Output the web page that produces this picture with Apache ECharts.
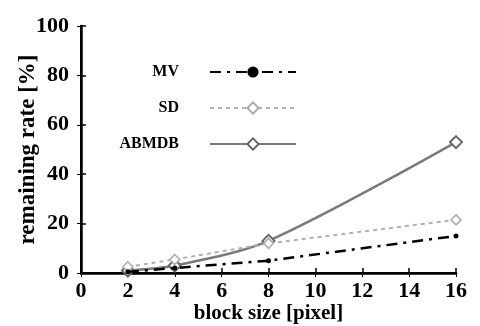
<!DOCTYPE html>
<html>
<head>
<meta charset="utf-8">
<script src="https://cdn.jsdelivr.net/npm/echarts@6/dist/echarts.min.js"></script>
<style>html,body{margin:0;padding:0;background:#fff;}#c{width:480px;height:326px;}</style>
</head>
<body>
<div id="c"></div>
<script>
const blockSizes = [2, 4, 8, 16];
const mvValues = [0.5, 2, 5, 15];
const sdValues = [2.5, 5.5, 12, 21.5];
const abmdbValues = [1, 3, 13, 53];
const xTicks = [0, 2, 4, 6, 8, 10, 12, 14, 16];
const yTicks = [0, 20, 40, 60, 80, 100];
const seriesNames = ['MV', 'SD', 'ABMDB'];

const font = '"Liberation Serif", "DejaVu Serif", serif';
const pair = (xs, ys) => xs.map((x, i) => [x, ys[i]]);

const chart = echarts.init(document.getElementById('c'));
const legendBase = {
  orient: 'vertical', align: 'right', right: 178, itemWidth: 86, itemHeight: 14, itemGap: 10,
  textStyle: { fontFamily: font, fontWeight: 'bold', fontSize: 16, color: '#000', padding: [0, 26, 0, 0] },
  selectedMode: false
};
chart.setOption({
  animation: false,
  backgroundColor: '#fff',
  grid: { left: 81, right: 24, top: 26, bottom: 53, outerBoundsMode: 'none', containLabel: false },
  legend: [
    Object.assign({}, legendBase, { top: 59, data: [seriesNames[0]] }),
    Object.assign({}, legendBase, { top: 95, data: [seriesNames[1]] }),
    Object.assign({}, legendBase, { top: 131, data: [seriesNames[2]] })
  ],
  xAxis: [{
    type: 'value', min: xTicks[0], max: xTicks[xTicks.length - 1], interval: 2,
    name: 'block size [pixel]', nameLocation: 'middle', nameGap: 30, nameMoveOverlap: false,
    nameTextStyle: { fontFamily: font, fontWeight: 'bold', fontSize: 21, color: '#000' },
    axisLine: { lineStyle: { color: '#000', width: 2.5 } },
    axisTick: { inside: true, length: 5, lineStyle: { color: '#000', width: 1.5 } },
    axisLabel: { fontFamily: font, fontWeight: 'bold', fontSize: 22, color: '#000', margin: 7 },
    splitLine: { show: false }
  }, {
    type: 'value', position: 'top', min: 0, max: 16, interval: 2,
    axisLine: { show: true, lineStyle: { color: '#000', width: 2 } },
    axisTick: { inside: true, length: 4, lineStyle: { color: '#000' } },
    axisLabel: { show: false }, splitLine: { show: false }
  }],
  yAxis: [{
    type: 'value', min: yTicks[0], max: yTicks[yTicks.length - 1], interval: 20,
    name: 'remaining rate [%]', nameLocation: 'middle', nameGap: 41, nameMoveOverlap: false,
    nameTextStyle: { fontFamily: font, fontWeight: 'bold', fontSize: 23, color: '#000' },
    axisLine: { show: true, lineStyle: { color: '#000', width: 2.5 } },
    axisTick: { inside: true, length: 5, lineStyle: { color: '#000', width: 1.5 } },
    axisLabel: { fontFamily: font, fontWeight: 'bold', fontSize: 22, color: '#000', margin: 12 },
    splitLine: { show: false }
  }, {
    type: 'value', position: 'right', min: 0, max: 100, interval: 20,
    axisLine: { show: true, lineStyle: { color: '#000', width: 2 } },
    axisTick: { inside: true, length: 4, lineStyle: { color: '#000' } },
    axisLabel: { show: false }, splitLine: { show: false }
  }],
  series: [{
    name: seriesNames[0], type: 'line', data: pair(blockSizes, mvValues),
    symbol: 'circle', symbolSize: 5,
    lineStyle: { color: '#000', width: 2.5, type: [11, 6, 3, 6] },
    itemStyle: { color: '#000' }, z: 3
  }, {
    name: seriesNames[1], type: 'line', data: pair(blockSizes, sdValues),
    symbol: 'diamond', symbolSize: 10,
    lineStyle: { color: '#b0b0b0', width: 2, type: [4, 4] },
    itemStyle: { color: '#fff', borderColor: '#aaa', borderWidth: 1.5 }, z: 2
  }, {
    name: seriesNames[2], type: 'line', data: pair(blockSizes, abmdbValues),
    symbol: 'diamond', symbolSize: 12, smooth: 0.3,
    lineStyle: { color: '#7a7a7a', width: 2.5 },
    itemStyle: { color: '#fff', borderColor: '#666', borderWidth: 2 }, z: 1
  }]
});
</script>
</body>
</html>
